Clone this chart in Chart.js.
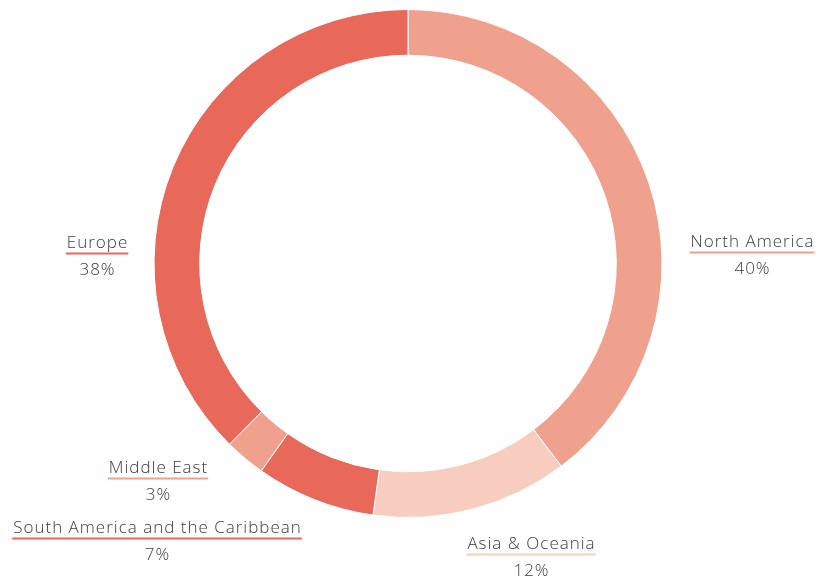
<!DOCTYPE html>
<html>
<head>
<meta charset="utf-8">
<script src="https://cdn.jsdelivr.net/npm/chart.js@4/dist/chart.umd.min.js"></script>
<style>
  html, body { margin: 0; padding: 0; background: #fff; }
  #wrap { width: 823px; height: 582px; }
</style>
</head>
<body>
<div id="wrap"><canvas id="donut-chart" width="823" height="582"></canvas></div>
<script>
const regions = ['North America', 'Asia & Oceania', 'South America and the Caribbean', 'Middle East', 'Europe'];
const shares = [39.7, 12.5, 7.6, 2.6, 37.6];
const shareLabels = ['40%', '12%', '7%', '3%', '38%'];

const sliceColors = ['#f0a18d', '#f7cdc0', '#e8685a', '#f0a18d', '#e8685a'];
// label anchor offsets from the doughnut centre (text centre x, name baseline y)
const labelOffsets = [[344, -17], [123, 285], [-251, 269], [-250, 209], [-311, -16]];

const outsideLabels = {
    id: 'outsideLabels',
    afterDraw(chart) {
        const ctx = chart.ctx;
        const arc = chart.getDatasetMeta(0).data[0];
        const cx = arc.x, cy = arc.y;
        const spacing = 1;
        const put = (txt, x, y) => {
            const w = ctx.measureText(txt).width - spacing;
            ctx.fillText(txt, x - w / 2, y);
            return w;
        };
        ctx.save();
        ctx.textAlign = 'left';
        ctx.textBaseline = 'alphabetic';
        ctx.font = '300 17px "Open Sans"';
        ctx.letterSpacing = spacing + 'px';
        regions.forEach((name, i) => {
            const x = cx + labelOffsets[i][0];
            const y = cy + labelOffsets[i][1];
            ctx.fillStyle = '#3a3a3a';
            const w = put(name, x, y);
            ctx.fillStyle = sliceColors[i];
            ctx.fillRect(x - w / 2 - 1, y + 5, w + 2, 2);
            ctx.fillStyle = '#3a3a3a';
            put(shareLabels[i], x, y + 27);
        });
        ctx.restore();
    }
};

const ctx = document.getElementById('donut-chart');
new Chart(ctx, {
    type: 'doughnut',
    data: {
        labels: regions,
        datasets: [{
            data: shares,
            backgroundColor: sliceColors,
            borderColor: '#ffffff',
            borderWidth: 1,
        }]
    },
    options: {
        responsive: false,
        animation: false,
        cutout: '82%',
        layout: { padding: { top: 9, bottom: 64, left: 0, right: 7 } },
        plugins: {
            legend: { display: false },
            tooltip: { enabled: false },
        }
    },
    plugins: [outsideLabels]
});
</script>
</body>
</html>
